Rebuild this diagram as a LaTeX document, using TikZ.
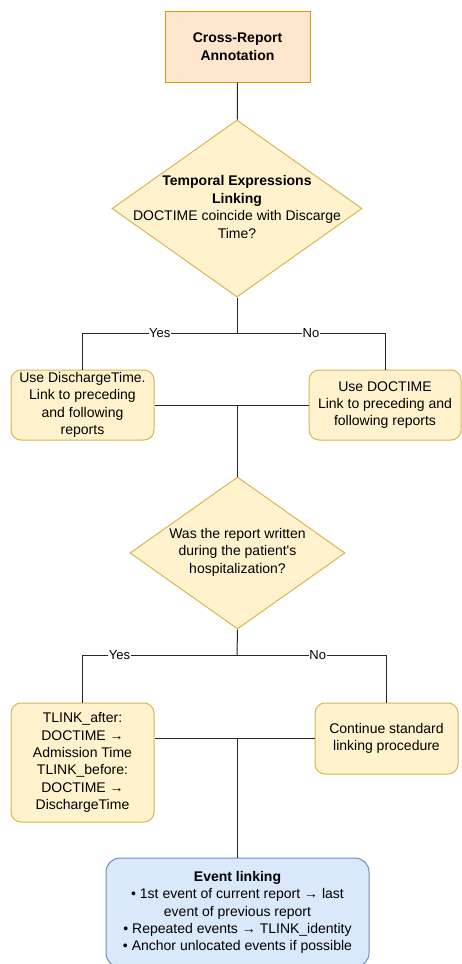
\documentclass[tikz,border=0pt]{standalone}
\usepackage{fontspec}
\setmainfont{Liberation Sans}
\usetikzlibrary{shapes.geometric}
\definecolor{orfill}{HTML}{FFE6CC}
\definecolor{ordraw}{HTML}{D79B00}
\definecolor{yefill}{HTML}{FFF2CC}
\definecolor{yedraw}{HTML}{D6B656}
\definecolor{blfill}{HTML}{DAE8FC}
\definecolor{bldraw}{HTML}{6C8EBF}
\begin{document}
\begin{tikzpicture}[x=1pt,y=-1pt,
  every node/.style={font=\fontsize{14}{17.4}\selectfont, align=center, inner sep=0pt},
  startbox/.style={draw=ordraw, fill=orfill, line width=1pt, minimum width=145pt, minimum height=71pt},
  procbox/.style={draw=yedraw, fill=yefill, line width=1pt, rounded corners=10pt},
  decbox/.style={draw=yedraw, fill=yefill, line width=1pt, shape=diamond},
  endbox/.style={draw=bldraw, fill=blfill, line width=1pt, rounded corners=14pt, minimum width=263pt, minimum height=109pt},
  conn/.style={draw=black!85, line width=1pt},
  lbl/.style={fill=white, font=\fontsize{13}{15}\selectfont, inner sep=0.5pt}
]
\useasboundingbox (0,0) rectangle (461,964);

\node[startbox] (start) at (237.5,46.5) {\textbf{Cross-Report}\\\textbf{Annotation}};

\node[decbox, minimum width=250pt, minimum height=177pt] (d1) at (237,208.5) {};
\node (d1t) at (237,207) {\textbf{Temporal Expressions}\\\textbf{Linking}\\DOCTIME coincide with Discarge\\Time?};

\node[procbox, minimum width=143pt, minimum height=70pt] (l1) at (82.5,405) {Use DischargeTime.\\Link to preceding\\and following\\reports};
\node[procbox, minimum width=152pt, minimum height=70pt] (r1) at (385,405) {Use DOCTIME\\Link to preceding and\\following reports};

\node[decbox, minimum width=215pt, minimum height=152pt] (d2) at (237.5,553) {};
\node (d2t) at (237.5,552) {Was the report written\\during the patient\textquotesingle s\\hospitalization?};

\node[procbox, minimum width=143pt, minimum height=119pt] (l2) at (82.5,762.5) {TLINK\_after:\\DOCTIME →\\Admission Time\\TLINK\_before:\\DOCTIME →\\DischargeTime};
\node[procbox, minimum width=143pt, minimum height=71pt] (r2) at (386.5,738.5) {Continue standard\\linking procedure};

\node[endbox] (ev) at (237.5,912.5) {\textbf{Event linking}\\\textbullet\ 1st event of current report → last\\event of previous report\\\textbullet\ Repeated events → TLINK\_identity\\\textbullet\ Anchor unlocated events if possible};

\coordinate (j1) at (237,333);
\coordinate (j2) at (237,655);

\draw[conn] (start) -- (d1);
\draw[conn] (d1.south) -- (j1);
\draw[conn] (j1) -| node[lbl, pos=0.25] {Yes} (l1.north);
\draw[conn] (j1) -| node[lbl, pos=0.25] {No} (r1.north);
\draw[conn] (l1.east) -- (r1.west);
\draw[conn] (l1.east -| d2.north) -- (d2.north);

\draw[conn] (d2.south) -- (j2);
\draw[conn] (j2) -| node[lbl, pos=0.38] {Yes} (l2.north);
\draw[conn] (j2) -| node[lbl, pos=0.27] {No} (r2.north);
\draw[conn] (r2.west) -- (r2.west -| l2.east);
\draw[conn] (r2.west -| ev.north) -- (ev.north);
\end{tikzpicture}
\end{document}
